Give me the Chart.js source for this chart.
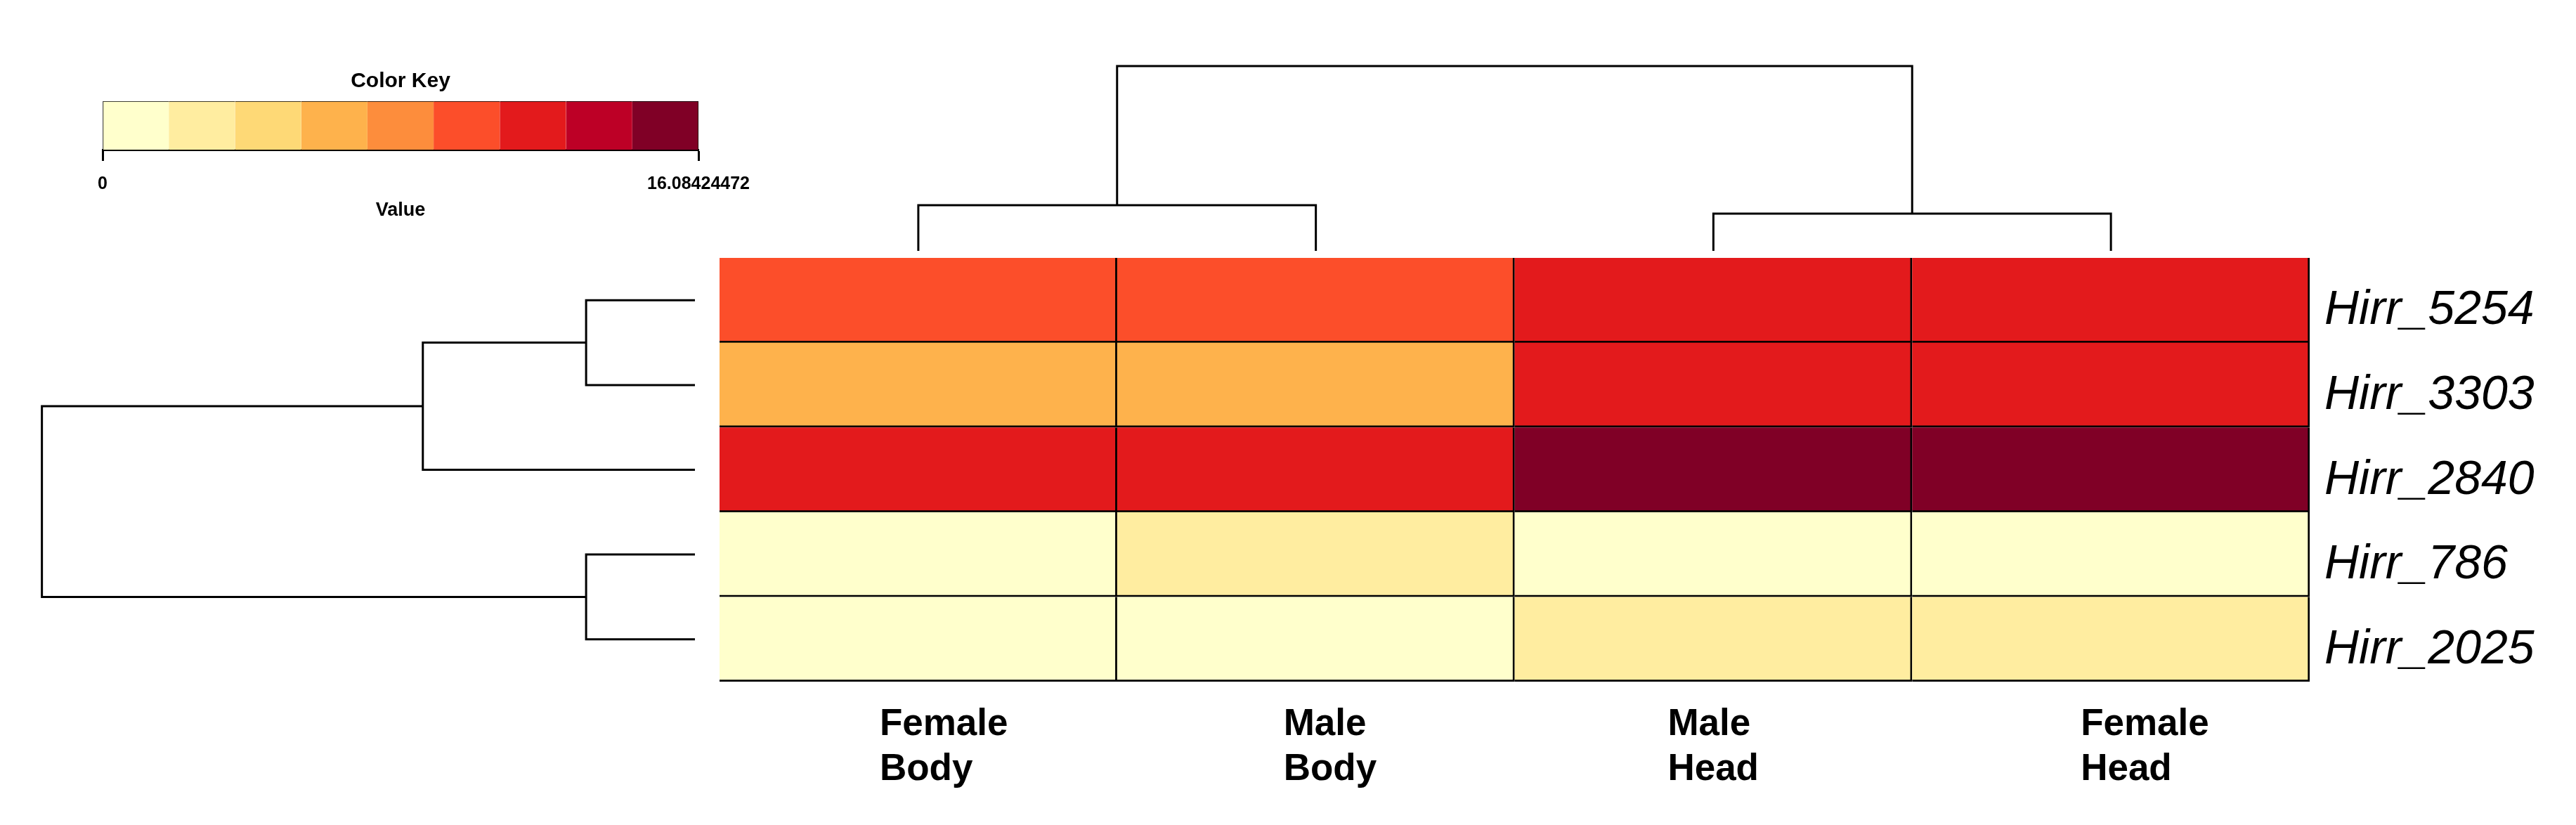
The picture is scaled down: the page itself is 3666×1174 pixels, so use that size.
<!DOCTYPE html>
<html>
<head>
<meta charset="utf-8">
<title>Heatmap</title>
<script src="https://cdn.jsdelivr.net/npm/chart.js@4.4.1/dist/chart.umd.min.js"></script>
<style>
  html, body { margin: 0; padding: 0; background: #fff; }
  body { width: 3666px; height: 1174px; position: relative; overflow: hidden; }
  .box { position: absolute; }
</style>
</head>
<body>
<div class="box" id="keyBox" style="left:46px; top:80px; width:1048px; height:236px;"><canvas id="keyChart"></canvas></div>
<div class="box" id="colTreeBox" style="left:1024px; top:40px; width:2263px; height:317px;"><canvas id="colTree"></canvas></div>
<div class="box" id="rowTreeBox" style="left:0px; top:367px; width:989px; height:603px;"><canvas id="rowTree"></canvas></div>
<div class="box" id="heatBox" style="left:1024px; top:367px; width:2642px; height:807px;"><canvas id="heatChart"></canvas></div>

<script>
// --- data ---
const rowLabels = ['Hirr_5254', 'Hirr_3303', 'Hirr_2840', 'Hirr_786', 'Hirr_2025'];
const colLabels = [['Female', 'Body'], ['Male', 'Body'], ['Male', 'Head'], ['Female', 'Head']];

// one array per gene, columns in the order of colLabels
const hirr5254 = [9.8, 9.5, 11.6, 11.9];
const hirr3303 = [6.2, 6.0, 11.2, 11.5];
const hirr2840 = [11.8, 11.3, 16.08, 15.6];
const hirr786 = [0.9, 2.1, 0.6, 0.8];
const hirr2025 = [0.5, 1.2, 2.4, 2.6];
const rowValues = [hirr5254, hirr3303, hirr2840, hirr786, hirr2025];

const keyMin = 0;
const keyMax = 16.08424472;
const keyColors = ['#FFFFCC', '#FFEDA0', '#FED976', '#FEB24C', '#FD8D3C', '#FC4E2A', '#E31A1C', '#BD0026', '#800026'];

// dendrograms, hclust style: negative = leaf (1-based), positive = earlier merge
const colMerge = [[-1, -2], [-3, -4], [1, 2]];
const colHeight = [2.05, 1.67, 8.3];
const rowMerge = [[-1, -2], [1, -3], [-4, -5], [2, 3]];
const rowHeight = [2.0, 5.0, 2.0, 12.0];

// label placement (px left of the column centre, like the R output)
const colLabelShift = [-55, -46, -65, -43];

const FONT = '"Liberation Sans", Arial, Helvetica, sans-serif';
Chart.defaults.font.family = FONT;
Chart.defaults.color = '#000';

function binColor(v) {
    const step = (keyMax - keyMin) / keyColors.length;
    let i = Math.floor((v - keyMin) / step);
    if (i >= keyColors.length) i = keyColors.length - 1;
    if (i < 0) i = 0;
    return keyColors[i];
}

// turn a merge table into line segments: [pos, height] pairs
function dendroSegments(merge, heights) {
    const pos = [], h = [], segs = [];
    merge.forEach((pair, k) => {
        const p = pair.map(m => m < 0 ? -m - 1 : pos[m - 1]);
        const hh = pair.map(m => m < 0 ? 0 : h[m - 1]);
        segs.push([[p[0], hh[0]], [p[0], heights[k]], [p[1], heights[k]], [p[1], hh[1]]]);
        pos.push((p[0] + p[1]) / 2);
        h.push(heights[k]);
    });
    return segs;
}

const noInteract = {
    responsive: true,
    maintainAspectRatio: false,
    animation: false,
    events: [],
    plugins: { legend: { display: false }, tooltip: { enabled: false } }
};

// --- colour key ---
const binWidth = (keyMax - keyMin) / keyColors.length;
new Chart(document.getElementById('keyChart'), {
    type: 'bar',
    data: {
        labels: ['key'],
        datasets: keyColors.map((c, i) => ({
            data: [binWidth],
            backgroundColor: c,
            borderColor: '#000',
            borderSkipped: false,
            borderWidth: { top: 1, bottom: 0, left: i === 0 ? 1 : 0, right: i === keyColors.length - 1 ? 1 : 0 },
            barPercentage: 1,
            categoryPercentage: 1
        }))
    },
    options: {
        ...noInteract,
        indexAxis: 'y',
        layout: { padding: { left: 100, right: 100, top: 0, bottom: 0 } },
        plugins: {
            ...noInteract.plugins,
            title: {
                display: true,
                text: 'Color Key',
                font: { size: 30, weight: 'bold' },
                padding: { top: 18, bottom: 10 }
            }
        },
        scales: {
            x: {
                stacked: true,
                min: keyMin,
                max: keyMax,
                afterBuildTicks: axis => { axis.ticks = [{ value: keyMin }, { value: keyMax }]; },
                afterFit: axis => { axis.height = 103; },
                ticks: {
                    font: { size: 25, weight: 'bold' },
                    padding: 18,
                    maxRotation: 0,
                    callback: v => v === keyMin ? '0' : String(keyMax)
                },
                grid: { drawOnChartArea: false, drawTicks: true, tickLength: 16, tickWidth: 3, tickColor: '#000' },
                border: { display: true, width: 3, color: '#000' },
                title: { display: true, text: 'Value', font: { size: 27, weight: 'bold' }, padding: { top: 7, bottom: 0 } }
            },
            y: { stacked: true, display: false }
        }
    }
});

// --- dendrograms ---
const lineStyle = { borderColor: '#000', borderWidth: 3, pointRadius: 0, showLine: true, fill: false, tension: 0 };

new Chart(document.getElementById('colTree'), {
    type: 'scatter',
    data: {
        datasets: dendroSegments(colMerge, colHeight).map(s => ({
            ...lineStyle,
            data: s.map(([p, hh]) => ({ x: p, y: hh }))
        }))
    },
    options: {
        ...noInteract,
        layout: { padding: 0 },
        scales: {
            x: { type: 'linear', min: -0.5, max: colLabels.length - 0.5, display: false },
            y: { type: 'linear', min: 0, max: 10, display: false }
        }
    }
});

new Chart(document.getElementById('rowTree'), {
    type: 'scatter',
    data: {
        datasets: dendroSegments(rowMerge, rowHeight).map(s => ({
            ...lineStyle,
            data: s.map(([p, hh]) => ({ x: hh, y: p }))
        }))
    },
    options: {
        ...noInteract,
        layout: { padding: 0 },
        scales: {
            x: { type: 'linear', min: 0, max: 12.77, reverse: true, display: false },
            y: { type: 'linear', min: -0.5, max: rowLabels.length - 0.5, reverse: true, display: false }
        }
    }
});

// --- heatmap ---
const heatLabels = {
    id: 'heatLabels',
    afterDraw(chart) {
        const { ctx, chartArea, scales } = chart;
        ctx.save();
        ctx.fillStyle = '#000';
        ctx.textAlign = 'left';
        ctx.textBaseline = 'alphabetic';
        ctx.font = 'italic 68px ' + FONT;
        rowLabels.forEach((lab, i) => {
            const yMid = scales.y.getPixelForValue(rowLabels.length - i - 0.5);
            ctx.fillText(lab, chartArea.right + 21, yMid + 34);
        });
        ctx.font = 'bold 53px ' + FONT;
        colLabels.forEach((lines, j) => {
            const x = scales.x.getPixelForValue(j) + colLabelShift[j];
            lines.forEach((t, k) => ctx.fillText(t, x, chartArea.bottom + 76 + k * 64));
        });
        ctx.restore();
    }
};

// stacked bars: bottom row first
const heatSets = rowValues.map((vals, i) => ({
    label: rowLabels[i],
    data: vals.map(() => 1),
    backgroundColor: vals.map(binColor),
    borderColor: '#000',
    borderWidth: { top: 0, left: 0, right: 3, bottom: 3 },
    borderSkipped: false,
    barPercentage: 1,
    categoryPercentage: 1
})).reverse();

new Chart(document.getElementById('heatChart'), {
    type: 'bar',
    data: {
        labels: colLabels.map(l => l.join(' ')),
        datasets: heatSets
    },
    options: {
        ...noInteract,
        layout: { padding: { left: 0, top: 0, right: 379, bottom: 204 } },
        scales: {
            x: { stacked: true, display: false },
            y: { stacked: true, min: 0, max: rowLabels.length, display: false }
        }
    },
    plugins: [heatLabels]
});
</script>
</body>
</html>
